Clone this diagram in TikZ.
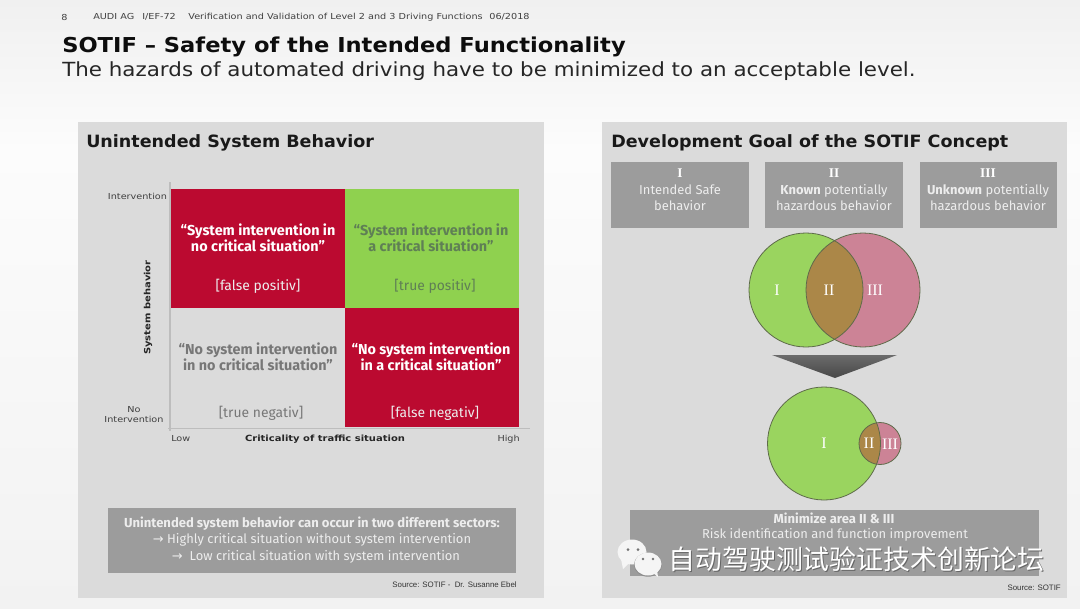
\documentclass[tikz,border=0pt]{standalone}
\usepackage{fontspec}
\usetikzlibrary{shadings}
\setmainfont{Liberation Serif}
\newfontfamily\widea[FakeStretch=1.1]{DejaVu Sans}
\newfontfamily\wideb[FakeStretch=1.035]{DejaVu Sans}
\newfontfamily\widec[FakeStretch=1.17]{DejaVu Sans}
\newfontfamily\plainsans{DejaVu Sans}
\newfontfamily\bodyfont{Fira Sans}
\newfontfamily\cjk{Noto Sans CJK SC}
\newfontfamily\arialfont{Liberation Sans}
\definecolor{panelgray}{HTML}{DBDBDB}
\definecolor{boxgray}{HTML}{9C9C9C}
\definecolor{audired}{HTML}{BB0A30}
\definecolor{audigreen}{HTML}{8FD14F}
\definecolor{greentext}{HTML}{5F7F55}
\definecolor{graytext}{HTML}{777777}
\definecolor{softwhite}{HTML}{EDEDED}
\definecolor{vgreen}{HTML}{9AD45F}
\definecolor{vpink}{HTML}{CC8396}
\definecolor{vmix}{HTML}{AB8748}
\definecolor{axisgray}{HTML}{BDBDBD}
\definecolor{bgtop}{HTML}{F0F0F0}
\definecolor{bgmid}{HTML}{FCFCFC}
\definecolor{bgbot}{HTML}{F2F2F2}
\definecolor{vennline}{HTML}{5E6B4A}
\definecolor{bubble}{HTML}{F5F5F5}
\tikzset{
  x=0.75pt,y=-0.75pt,
  panel/.style={fill=panelgray,draw=none},
  heading/.style={font=\wideb\bfseries\fontsize{12.7}{15}\selectfont,anchor=west,inner sep=0pt,text=black!90},
  celltext/.style={font=\bodyfont\bfseries\fontsize{10.8}{12}\selectfont,align=center,inner sep=0pt},
  tag/.style={font=\bodyfont\fontsize{10.4}{12}\selectfont,inner sep=0pt},
  axislabel/.style={font=\widec\bfseries\fontsize{6.4}{8}\selectfont,inner sep=0pt,text=black!85},
  ticklabel/.style={font=\widec\fontsize{6.2}{7.4}\selectfont,inner sep=0pt,text=black!75,align=center},
  graybox/.style={fill=boxgray,draw=none,inner sep=0pt},
  boxtext/.style={font=\bodyfont\fontsize{9.7}{12.4}\selectfont,align=center,inner sep=0pt,text=softwhite},
  vlabel/.style={font=\rmfamily\fontsize{12}{14}\selectfont,inner sep=0pt,text=white},
  source/.style={font=\arialfont\fontsize{5.9}{7}\selectfont,inner sep=0pt,anchor=east,text=black!80},
  venn/.style={draw=vennline,line width=0.6pt},
  wmfont/.style={font=\cjk\fontsize{20.15}{24}\selectfont,inner sep=0pt,anchor=west},
}
\newcommand{\rnum}[1]{{\color{white}\rmfamily\bfseries\fontsize{10}{12.4}\selectfont #1}}
\begin{document}
\begin{tikzpicture}
\useasboundingbox (0,0) rectangle (1080,608);
% page background
\shade[top color=bgtop,bottom color=bgmid] (0,0) rectangle (1080,150);
\shade[top color=bgmid,bottom color=bgbot] (0,150) rectangle (1080,608);
% header
\node[font=\widec\fontsize{6.2}{8}\selectfont,anchor=west,inner sep=0pt,text=black!75] (pageno) at (61,17) {8};
\node[font=\widec\fontsize{6.2}{8}\selectfont,anchor=west,inner sep=0pt,text=black!75] (hdr) at (93,17) {AUDI AG\hspace{6pt}I/EF-72\hspace{9.4pt}Verification and Validation of Level 2 and 3 Driving Functions\hspace{5pt}06/2018};
\node[font=\widea\bfseries\fontsize{15.4}{18}\selectfont,anchor=west,inner sep=0pt,text=black!95] (title) at (62,47) {SOTIF – Safety of the Intended Functionality};
\node[font=\widea\fontsize{14.6}{17}\selectfont,anchor=west,inner sep=0pt,text=black!85] (subtitle) at (62,71.5) {The hazards of automated driving have to be minimized to an acceptable level.};
% left panel
\fill[panel] (78,122) rectangle (544,598);
\node[heading] (lefthead) at (86,142.5) {Unintended System Behavior};
\draw[axisgray,line width=0.8pt] (170,182) -- (170,431);
\draw[axisgray,line width=0.8pt] (168,428.5) -- (530,428.5);
\fill[audired] (171,189) rectangle (345,307.5);
\fill[audigreen] (345,189) rectangle (519,307.5);
\fill[audired] (345,307.5) rectangle (519,426.5);
\node[celltext,text=white] (a1) at (258,238) {“System intervention in\\no critical situation”};
\node[tag,text=softwhite] (a2) at (258,286) {[false positiv]};
\node[celltext,text=greentext] (b1) at (431,238) {“System intervention in\\a critical situation”};
\node[tag,text=greentext] (b2) at (435,286) {[true positiv]};
\node[celltext,text=graytext] (c1) at (258,357) {“No system intervention\\in no critical situation”};
\node[tag,text=graytext] (c2) at (261,413) {[true negativ]};
\node[celltext,text=white] (d1) at (431,357) {“No system intervention\\in a critical situation”};
\node[tag,text=softwhite] (d2) at (435,413) {[false negativ]};
\node[ticklabel] (t1) at (137.5,196) {Intervention};
\node[ticklabel] (t2) at (134,414.5) {No\\Intervention};
\node[ticklabel,anchor=west] (t3) at (171,439) {Low};
\node[ticklabel,anchor=east] (t4) at (520,439) {High};
\node[axislabel] (xl) at (325,439) {Criticality of traffic situation};
\node[axislabel,rotate=90] (yl) at (148,307.5) {System behavior};
\fill[graybox] (108,507.5) rectangle (516,572.5);
\node[font=\bodyfont\bfseries\fontsize{9.8}{12}\selectfont,text=softwhite,inner sep=0pt] (s1) at (312,523.5) {Unintended system behavior can occur in two different sectors:};
\node[boxtext] (s2) at (312,540) {{\plainsans →} Highly critical situation without system intervention};
\node[boxtext] (s3) at (316,556.5) {{\plainsans →}\ \ Low critical situation with system intervention};
\node[source] (src1) at (517,585) {Source: SOTIF -\ \ Dr. Susanne Ebel};
% right panel
\fill[panel] (602,122) rectangle (1067,598);
\node[heading] (righthead) at (611,142.5) {Development Goal of the SOTIF Concept};
\fill[graybox] (611,162) rectangle (749,228);
\fill[graybox] (765,162) rectangle (903,228);
\fill[graybox] (919.5,162) rectangle (1057,228);
\node[boxtext] (k1) at (680,190) {\rnum{I}\\Intended Safe\\behavior};
\node[boxtext] (k2) at (834,190) {\rnum{II}\\\textbf{Known} potentially\\hazardous behavior};
\node[boxtext] (k3) at (988,190) {\rnum{III}\\\textbf{Unknown} potentially\\hazardous behavior};
% venn 1
\fill[vgreen] (806,290) circle (57);
\fill[vpink] (863,290) circle (57);
\begin{scope}
\clip (806,290) circle (57);
\fill[vmix] (863,290) circle (57);
\end{scope}
\draw[venn] (806,290) circle (57);
\draw[venn] (863,290) circle (57);
\node[vlabel] (v1) at (777,290.5) {I};
\node[vlabel] (v2) at (829,290.5) {II};
\node[vlabel] (v3) at (875,290.5) {III};
% arrow
\shade[top color=black!58,bottom color=black!72] (772,355) -- (897,355) -- (835,378) -- cycle;
% venn 2
\fill[vgreen] (824,443.5) circle (56.5);
\fill[vpink] (880,443.5) circle (21);
\begin{scope}
\clip (824,443.5) circle (56.5);
\fill[vmix] (880,443.5) circle (21);
\end{scope}
\draw[venn] (824,443.5) circle (56.5);
\draw[venn] (880,443.5) circle (21);
\node[vlabel] (w1) at (824,443.5) {I};
\node[vlabel] (w2) at (869,443.5) {II};
\node[vlabel] (w3) at (890,444) {III};
% bottom box
\fill[graybox] (630,510) rectangle (1039,576);
\node[font=\bodyfont\bfseries\fontsize{9.8}{12}\selectfont,text=softwhite,inner sep=0pt] (m1) at (834,518.5) {Minimize area II \& III};
\node[boxtext] (m2) at (835,535) {Risk identification and function improvement};
\node[source] (src2) at (1061,588) {Source: SOTIF};
% watermark
\fill[bubble] (632,552) ellipse (14.5 and 12.5);
\fill[bubble] (621,559) -- (623,569) -- (630,562) -- cycle;
\fill[black!55] (628,549.5) circle (1.5);
\fill[black!55] (638,549.5) circle (1.5);
\fill[black!45] (648,564.7) ellipse (14 and 12);
\fill[bubble] (648,564) ellipse (13.5 and 11.5);
\fill[bubble] (652,572) -- (658,577) -- (657,570) -- cycle;
\fill[black!55] (643,559) circle (1.3);
\fill[black!55] (653,559) circle (1.3);
\node[wmfont,text=black!60] (wmshadow) at (669.3,559.8) {自动驾驶测试验证技术创新论坛};
\node[wmfont,text=white] (wm) at (668.3,559) {自动驾驶测试验证技术创新论坛};
\end{tikzpicture}
\end{document}
